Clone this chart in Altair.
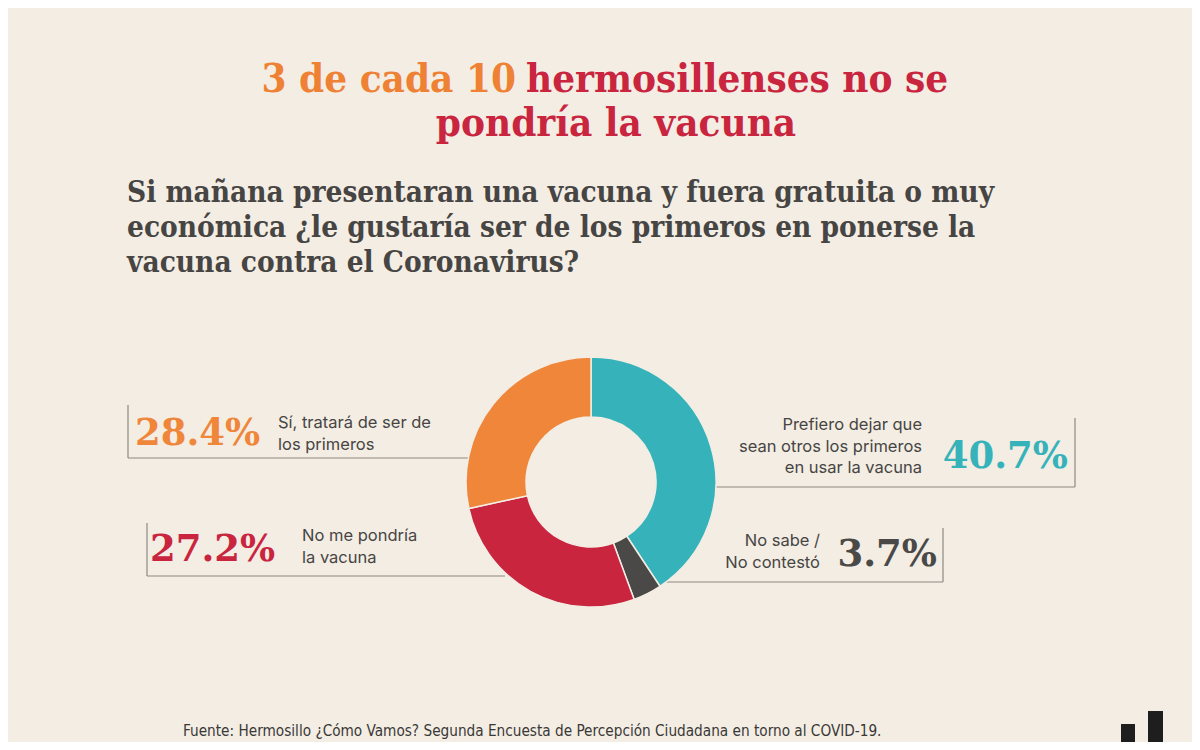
import altair as alt
import pandas as pd

# ---- data ----
categories = [
    "Prefiero dejar que\nsean otros los primeros\nen usar la vacuna",
    "No sabe /\nNo contestó",
    "No me pondría\nla vacuna",
    "Sí, tratará de ser de\nlos primeros",
]
values = [40.7, 3.7, 27.2, 28.4]
colors = ["#36b3ba", "#4a4947", "#c9253f", "#ef863a"]

title_a = "3 de cada 10"
title_b = "hermosillenses no se"
title_c = "pondría la vacuna"
subtitle = ("Si mañana presentaran una vacuna y fuera gratuita o muy\n"
            "económica ¿le gustaría ser de los primeros en ponerse la\n"
            "vacuna contra el Coronavirus?")
source = "Fuente: Hermosillo ¿Cómo Vamos? Segunda Encuesta de Percepción Ciudadana en torno al COVID-19."

# ---- layout (page pixel coordinates) ----
W, H = 1184, 734
BG = "#f3ede4"
TXT = "#474543"
SERIF_C = "'DejaVu Serif Condensed', 'Liberation Serif', serif"
SANS_C = "'DejaVu Sans Condensed', 'Liberation Sans', sans-serif"
xs = alt.Scale(domain=[8, 8 + W], range=[0, W], nice=False, zero=False)
ys = alt.Scale(domain=[8, 8 + H], range=[0, H], nice=False, zero=False)

pct_pos = [(1068, 457, "right"), (937, 555, "right"), (150, 550, "left"), (135, 434, "left")]
# y = first line of each label
lab_pos = [(922, 425, "right"), (820, 541, "right"), (302, 536, "left"), (278, 423, "left")]
leaders = [
    [(690, 487, 1075, 487), (1075, 418, 1075, 487)],
    [(630, 582, 943, 582), (943, 528, 943, 582)],
    [(147, 576, 505, 576), (147, 523, 147, 576)],
    [(128, 458, 472, 458), (128, 405, 128, 458)],
]


def X(f="x"):
    return alt.X(f"{f}:Q", scale=xs, axis=None)


def Y(f="y"):
    return alt.Y(f"{f}:Q", scale=ys, axis=None)


def text_layer(rows, **mark):
    df = pd.DataFrame(rows, columns=["x", "y", "t"])
    return alt.Chart(df).mark_text(**mark).encode(x=X(), y=Y(), text="t:N")


donut_df = pd.DataFrame({"cat": categories, "value": values, "order": list(range(len(values)))})
donut = alt.Chart(donut_df).mark_arc(
    outerRadius=125, innerRadius=65, stroke=BG, strokeWidth=1.5
).encode(
    theta=alt.Theta("value:Q", stack=True),
    order=alt.Order("order:Q"),
    color=alt.Color("cat:N", scale=alt.Scale(domain=categories, range=colors), legend=None),
    x=alt.value(591 - 8),
    y=alt.value(482 - 8),
)

rule_rows = []
for segs in leaders:
    for (x1, y1, x2, y2) in segs:
        rule_rows.append({"x": x1, "y": y1, "x2": x2, "y2": y2})
rules = alt.Chart(pd.DataFrame(rule_rows)).mark_rule(color="#8d8882", strokeWidth=1.2).encode(
    x=X(), y=Y(), x2="x2:Q", y2="y2:Q"
)

layers = [rules, donut]

for i, (cat, v, col) in enumerate(zip(categories, values, colors)):
    px, py, pa = pct_pos[i]
    layers.append(text_layer([(px, py, f"{v}%")], align=pa, baseline="middle",
                             font="DejaVu Serif", fontWeight="bold", fontSize=37, color=col))
    lx, ly, la = lab_pos[i]
    layers.append(text_layer([(lx, ly, cat)], align=la, baseline="middle", lineBreak="\n",
                             lineHeight=21.5, font="Inter", fontSize=16.5, color=TXT))

# title
layers.append(text_layer([(516, 80, title_a)], align="right", baseline="middle",
                         font=SERIF_C, fontWeight="bold", fontSize=40, color="#ee8134"))
layers.append(text_layer([(526, 80, title_b)], align="left", baseline="middle",
                         font=SERIF_C, fontWeight="bold", fontSize=40, color="#c9253f"))
layers.append(text_layer([(616, 124, title_c)], align="center", baseline="middle",
                         font=SERIF_C, fontWeight="bold", fontSize=40, color="#c9253f"))
# subtitle (y = first line)
layers.append(text_layer([(127, 193, subtitle)], align="left", baseline="middle", lineBreak="\n",
                         lineHeight=35, font=SERIF_C, fontWeight="bold", fontSize=29.5, color=TXT))
# source
layers.append(text_layer([(183, 731, source)], align="left", baseline="middle",
                         font=SANS_C, fontSize=15.2, color="#3a3836"))

# logo bars (decorative)
logo = alt.Chart(pd.DataFrame({"x": [1121, 1148], "x2": [1135, 1163], "y": [724, 711], "y2": [742, 742]})).mark_rect(
    color="#1e1e1e").encode(x=X(), x2="x2:Q", y=Y(), y2="y2:Q")
layers.append(logo)

chart = alt.layer(*layers).properties(
    width=W, height=H, background=BG, padding=0, autosize="none"
).configure_view(stroke=None)

chart.save("out.html", embed_options={"renderer": "svg", "actions": False})
